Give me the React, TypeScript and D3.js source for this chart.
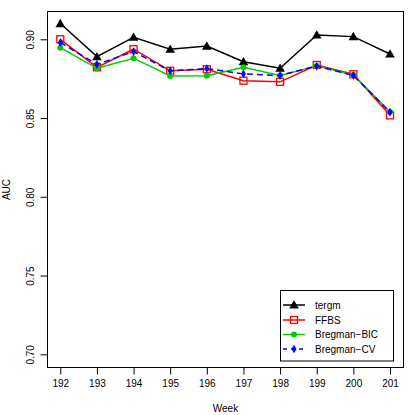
import {useEffect, useRef} from 'react';
import * as d3 from 'd3';

const weeks = [192, 193, 194, 195, 196, 197, 198, 199, 200, 201];
const tergm = [0.9100, 0.8890, 0.9013, 0.8937, 0.8957, 0.8858, 0.8816, 0.9027, 0.9017, 0.8907];
const ffbs = [0.9000, 0.8822, 0.8937, 0.8800, 0.8810, 0.8737, 0.8730, 0.8837, 0.8778, 0.8517];
const bregmanBic = [0.8947, 0.8816, 0.8880, 0.8767, 0.8769, 0.8822, 0.8770, 0.8830, 0.8773, 0.8540];
const bregmanCv = [0.8979, 0.8841, 0.8922, 0.8799, 0.8814, 0.8780, 0.8770, 0.8830, 0.8771, 0.8537];
const yTicks = [0.70, 0.75, 0.80, 0.85, 0.90];

const series = [
    {name: 'tergm', values: tergm, color: '#000000', marker: 'triangle', dash: null},
    {name: 'FFBS', values: ffbs, color: '#ff0000', marker: 'square', dash: null},
    {name: 'Bregman\u2212BIC', values: bregmanBic, color: '#00cd00', marker: 'circle', dash: null},
    {name: 'Bregman\u2212CV', values: bregmanCv, color: '#0000ff', marker: 'diamond', dash: '6,4'},
];

export default function App() {
    const ref = useRef<SVGSVGElement>(null);

    useEffect(() => {
        const width = 415;
        const height = 415;
        const left = 47.5, right = 403.5, top = 11.5, bottom = 367.5;
        const svg = d3.select(ref.current);
        svg.selectAll('*').remove();
        const font = 'Liberation Sans, Arial, sans-serif';

        const x = d3.scaleLinear().domain([192, 201]).range([60.3, 390]);
        const y = d3.scaleLinear().domain([0.70, 0.90]).range([354.3, 39.3]);

        svg.append('rect').attr('width', width).attr('height', height).attr('fill', '#fff');

        // x axis
        const gx = svg.append('g').attr('transform', `translate(0, ${bottom})`)
            .call(d3.axisBottom(x).tickValues(weeks).tickSize(7).tickPadding(5).tickFormat(d3.format('d')));
        gx.select('.domain').remove();
        gx.selectAll('text').attr('font-family', font).attr('font-size', 10).attr('fill', '#000');

        // y axis, labels rotated like base R
        const gy = svg.append('g').attr('transform', `translate(${left}, 0)`)
            .call(d3.axisLeft(y).tickValues(yTicks).tickSize(7).tickFormat(d3.format('.2f')));
        gy.select('.domain').remove();
        gy.selectAll('text')
            .attr('font-family', font).attr('font-size', 10).attr('fill', '#000')
            .attr('x', 0).attr('y', 0).attr('dy', '0.35em').attr('text-anchor', 'middle')
            .attr('transform', 'translate(-17, 0) rotate(-90)');

        // plot box
        svg.append('rect').attr('x', left).attr('y', top)
            .attr('width', right - left).attr('height', bottom - top)
            .attr('fill', 'none').attr('stroke', '#000');

        svg.append('text').attr('x', (left + right) / 2).attr('y', 412)
            .attr('text-anchor', 'middle').attr('font-family', font).attr('font-size', 10).text('Week');
        svg.append('text').attr('transform', `translate(10, ${(top + bottom) / 2}) rotate(-90)`)
            .attr('text-anchor', 'middle').attr('font-family', font).attr('font-size', 10).text('AUC');

        const line = d3.line<number>().x((d, i) => x(weeks[i])).y((d) => y(d));

        const drawMarker = (g: any, kind: string, cx: number, cy: number, color: string) => {
            if (kind === 'triangle') {
                g.append('path').attr('d', d3.symbol(d3.symbolTriangle, 40)()).attr('transform', `translate(${cx},${cy + 0.8})`).attr('fill', color);
            } else if (kind === 'square') {
                g.append('rect').attr('x', cx - 3.5).attr('y', cy - 3.5).attr('width', 7).attr('height', 7)
                    .attr('fill', 'none').attr('stroke', color).attr('stroke-width', 1.3);
            } else if (kind === 'circle') {
                g.append('circle').attr('cx', cx).attr('cy', cy).attr('r', 3).attr('fill', color);
            } else {
                g.append('path').attr('d', d3.symbol(d3.symbolDiamond, 22)()).attr('transform', `translate(${cx},${cy})`).attr('fill', color);
            }
        };

        series.forEach((s) => {
            const g = svg.append('g');
            g.append('path').datum(s.values).attr('d', line).attr('fill', 'none')
                .attr('stroke', s.color).attr('stroke-width', 1.5)
                .attr('stroke-dasharray', s.dash);
            s.values.forEach((v, i) => drawMarker(g, s.marker, x(weeks[i]), y(v), s.color));
        });

        // legend
        const lg = svg.append('g');
        lg.append('rect').attr('x', 280.5).attr('y', 290.5).attr('width', 113).attr('height', 70.5)
            .attr('fill', '#fff').attr('stroke', '#000');
        const rows = [305, 320, 334.5, 349];
        series.forEach((s, i) => {
            const ry = rows[i];
            lg.append('line').attr('x1', 283).attr('x2', 305).attr('y1', ry).attr('y2', ry)
                .attr('stroke', s.color).attr('stroke-width', 1.5).attr('stroke-dasharray', s.dash ? '4,4' : null);
            drawMarker(lg, s.marker, 294, ry, s.color);
            lg.append('text').attr('x', 315).attr('y', ry).attr('dy', '0.35em')
                .attr('font-family', font).attr('font-size', 10).text(s.name);
        });
    }, []);

    return <svg ref={ref} width={415} height={415} style={{display: 'block', position: 'absolute', left: 0, top: 0}}></svg>;
}
